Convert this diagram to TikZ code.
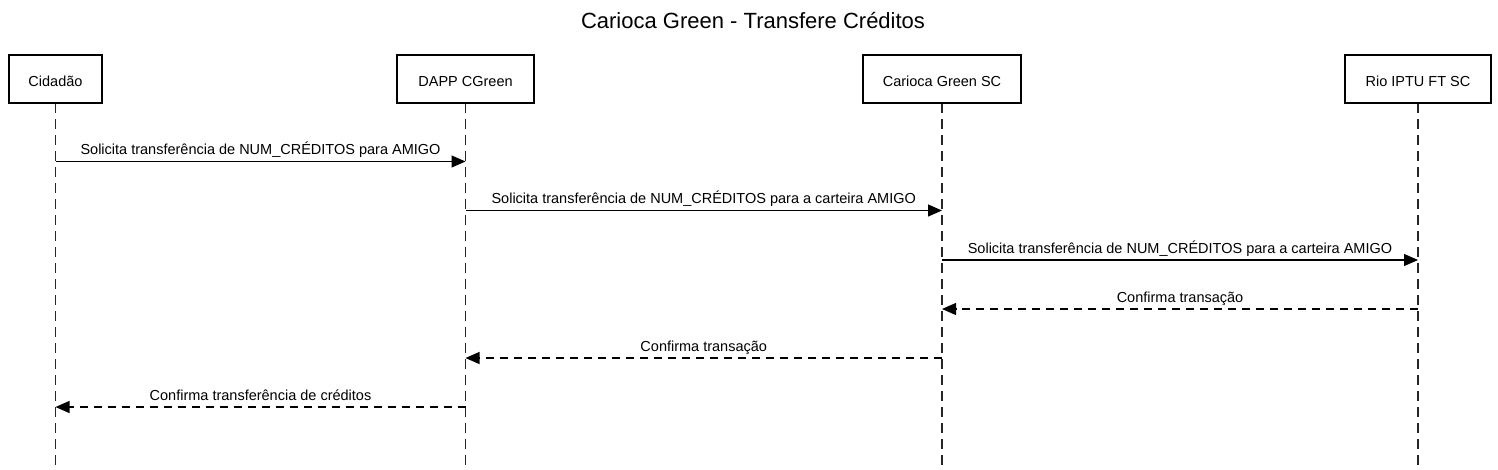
\documentclass[tikz,border=0pt]{standalone}
\usepackage{fontspec}
\setmainfont{Liberation Sans}
\usetikzlibrary{arrows.meta,calc}
\begin{document}
\begin{tikzpicture}[x=1pt,y=-1pt,
  actor/.style={draw=black, line width=2.5pt, fill=white, minimum height=48pt, inner sep=0pt, font=\fontsize{14.5}{17}\selectfont},
  life/.style={draw=black!85, line width=1.8pt, dash pattern=on 10pt off 6pt},
  msg/.style={draw=black, line width=1.2pt, -{Triangle[length=14pt,width=12pt]}},
  reply/.style={msg, dash pattern=on 8pt off 6pt},
  lbl/.style={font=\fontsize{14.5}{17}\selectfont, anchor=base, inner sep=0pt},
  ttl/.style={font=\fontsize{22}{26}\selectfont, anchor=base, inner sep=0pt}]
\useasboundingbox (0,0) rectangle (1498,469);

\node[ttl] (title) at (753,28) {Carioca Green - Transfere Créditos};

% lifeline ends
\coordinate (cidE) at (55.5,469);
\coordinate (dapE) at (465.5,469);
\coordinate (carE) at (942,469);
\coordinate (rioE) at (1418,469);

\draw[life] (55.5,103) -- (cidE);
\draw[life] (465.5,103) -- (dapE);
\draw[life] (942,103) -- (carE);
\draw[life] (1418,103) -- (rioE);

\node[actor, minimum width=93pt] (cid) at (55.5,79) {};
\node[actor, minimum width=137pt] (dap) at (465.5,79) {};
\node[actor, minimum width=158pt] (car) at (942,79) {};
\node[actor, minimum width=146pt] (rio) at (1418,79) {};
\node[lbl] (cidT) at (55.5,86.5) {Cidadão};
\node[lbl] (dapT) at (465.5,86.5) {DAPP CGreen};
\node[lbl] (carT) at (942,86.5) {Carioca Green SC};
\node[lbl] (rioT) at (1418,86.5) {Rio IPTU FT SC};

% message points on lifelines
\coordinate (cid1) at (55.5,161.5);
\coordinate (dap1) at (465.5,161.5);
\coordinate (dap2) at (465.5,210.5);
\coordinate (car2) at (942,210.5);
\coordinate (car3) at (942,260);
\coordinate (rio3) at (1418,260);
\coordinate (rio4) at (1418,309);
\coordinate (car4) at (942,309);
\coordinate (car5) at (942,358);
\coordinate (dap5) at (465.5,358);
\coordinate (dap6) at (465.5,407);
\coordinate (cid6) at (55.5,407);

\draw[msg] (cid1) -- (dap1);
\node[lbl] (l1) at ($(cid1)!0.5!(dap1)+(0,-7)$) {Solicita transferência de NUM\_CRÉDITOS para AMIGO};
\draw[msg] (dap2) -- (car2);
\node[lbl] (l2) at ($(dap2)!0.5!(car2)+(0,-7)$) {Solicita transferência de NUM\_CRÉDITOS para a carteira AMIGO};
\draw[msg] (car3) -- (rio3);
\node[lbl] (l3) at ($(car3)!0.5!(rio3)+(0,-7)$) {Solicita transferência de NUM\_CRÉDITOS para a carteira AMIGO};
\draw[reply] (rio4) -- (car4);
\node[lbl] (l4) at ($(rio4)!0.5!(car4)+(0,-7)$) {Confirma transação};
\draw[reply] (car5) -- (dap5);
\node[lbl] (l5) at ($(car5)!0.5!(dap5)+(0,-7)$) {Confirma transação};
\draw[reply] (dap6) -- (cid6);
\node[lbl] (l6) at ($(dap6)!0.5!(cid6)+(0,-7)$) {Confirma transferência de créditos};
\end{tikzpicture}
\end{document}
